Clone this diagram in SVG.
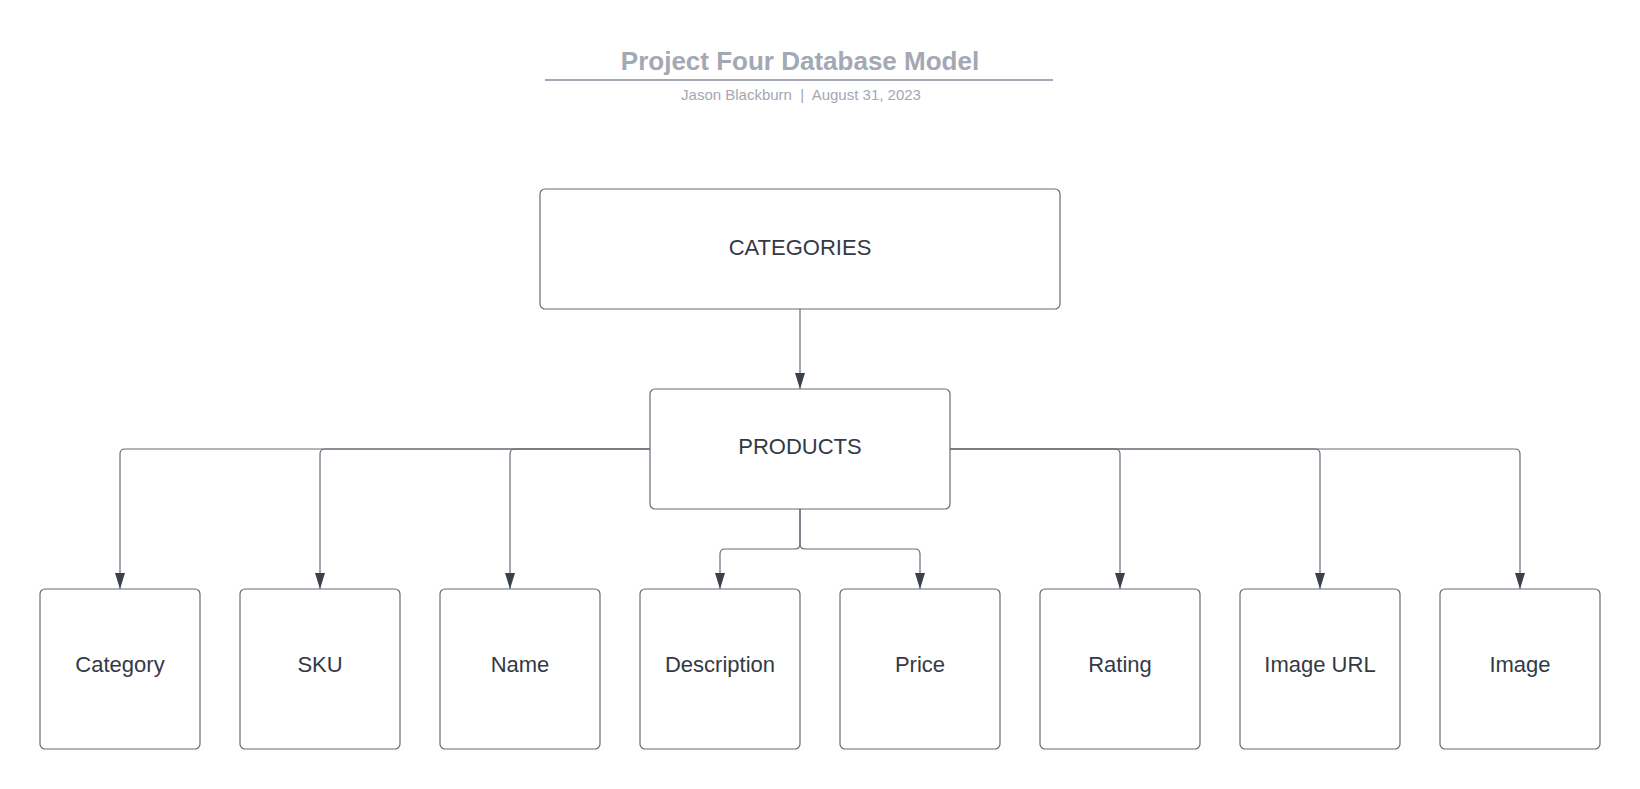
<svg xmlns="http://www.w3.org/2000/svg" width="1640" height="789" viewBox="0 0 1640 789">
<style>
.box{fill:#ffffff;stroke:#676c75;stroke-width:1.2}
.lbl{font-family:"Liberation Sans",Arial,sans-serif;font-size:22px;fill:#333a45;text-anchor:middle}
.conn{fill:none;stroke:#676c75;stroke-width:1.2}
.title{font-family:"Liberation Sans",Arial,sans-serif;font-size:26px;font-weight:bold;fill:#a3a8b3;text-anchor:middle}
.sub{font-family:"Liberation Sans",Arial,sans-serif;font-size:15px;fill:#a3a8b3;text-anchor:middle;white-space:pre}
</style>
<defs>
<marker id="arr" markerUnits="userSpaceOnUse" markerWidth="16" markerHeight="10" refX="16" refY="5" orient="auto" viewBox="0 0 16 10">
<path d="M0,0 L16,5 L0,10 Z" fill="#3a414a"/>
</marker>
</defs>
<rect width="1640" height="789" fill="#ffffff"/>
<g id="title">
<text class="title" x="800" y="70">Project Four Database Model</text>
<line x1="545" y1="80" x2="1053" y2="80" stroke="#a3a8b3" stroke-width="2"/>
<text class="sub" x="801" y="100" xml:space="preserve">Jason Blackburn  |  August 31, 2023</text>
</g>
<g id="connectors">
<path class="conn" marker-end="url(#arr)" d="M800,309 V389"/>
<path class="conn" marker-end="url(#arr)" d="M650,449 H125 Q120,449 120,454 V589"/>
<path class="conn" marker-end="url(#arr)" d="M650,449 H325 Q320,449 320,454 V589"/>
<path class="conn" marker-end="url(#arr)" d="M650,449 H515 Q510,449 510,454 V589"/>
<path class="conn" marker-end="url(#arr)" d="M800,509 V544 Q800,549 795,549 H725 Q720,549 720,554 V589"/>
<path class="conn" marker-end="url(#arr)" d="M800,509 V544 Q800,549 805,549 H915 Q920,549 920,554 V589"/>
<path class="conn" marker-end="url(#arr)" d="M950,449 H1115 Q1120,449 1120,454 V589"/>
<path class="conn" marker-end="url(#arr)" d="M950,449 H1315 Q1320,449 1320,454 V589"/>
<path class="conn" marker-end="url(#arr)" d="M950,449 H1515 Q1520,449 1520,454 V589"/>
</g>
<g id="categories">
<rect class="box" x="540" y="189" width="520" height="120" rx="5"/>
<text class="lbl" x="800" y="255">CATEGORIES</text>
</g>
<g id="products">
<rect class="box" x="650" y="389" width="300" height="120" rx="5"/>
<text class="lbl" x="800" y="454">PRODUCTS</text>
</g>
<g id="category">
<rect class="box" x="40" y="589" width="160" height="160" rx="5"/>
<text class="lbl" x="120" y="672">Category</text>
</g>
<g id="sku">
<rect class="box" x="240" y="589" width="160" height="160" rx="5"/>
<text class="lbl" x="320" y="672">SKU</text>
</g>
<g id="name">
<rect class="box" x="440" y="589" width="160" height="160" rx="5"/>
<text class="lbl" x="520" y="672">Name</text>
</g>
<g id="description">
<rect class="box" x="640" y="589" width="160" height="160" rx="5"/>
<text class="lbl" x="720" y="672">Description</text>
</g>
<g id="price">
<rect class="box" x="840" y="589" width="160" height="160" rx="5"/>
<text class="lbl" x="920" y="672">Price</text>
</g>
<g id="rating">
<rect class="box" x="1040" y="589" width="160" height="160" rx="5"/>
<text class="lbl" x="1120" y="672">Rating</text>
</g>
<g id="image-url">
<rect class="box" x="1240" y="589" width="160" height="160" rx="5"/>
<text class="lbl" x="1320" y="672">Image URL</text>
</g>
<g id="image">
<rect class="box" x="1440" y="589" width="160" height="160" rx="5"/>
<text class="lbl" x="1520" y="672">Image</text>
</g>
</svg>
